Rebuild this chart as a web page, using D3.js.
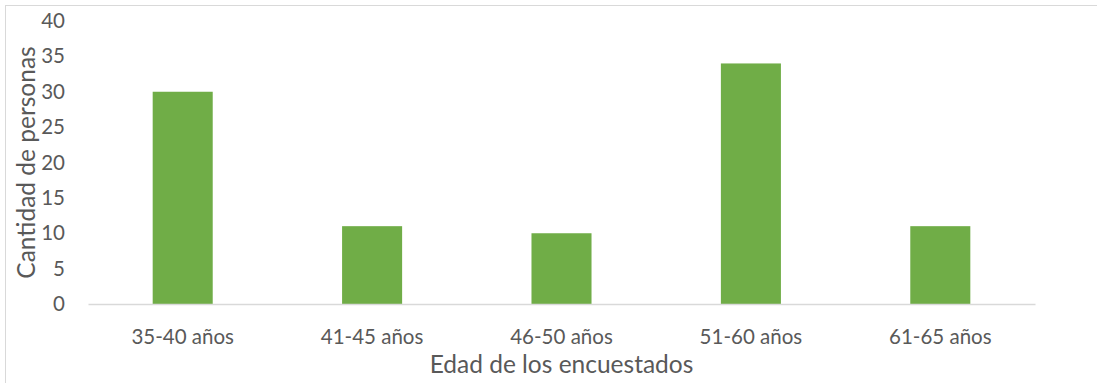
<!DOCTYPE html>
<html>
<head>
<meta charset="utf-8">
<style>
    body { margin: 0; background: #fff; }
    text { font-family: Lato, "Open Sans", sans-serif; fill: #595959; }
</style>
</head>
<body>
<script src="https://d3js.org/d3.v7.min.js"></script>
<script>
    // Data
    var categories = ["35-40 años", "41-45 años", "46-50 años", "51-60 años", "61-65 años"];
    var values = [30, 11, 10, 34, 11];
    var yTicks = [0, 5, 10, 15, 20, 25, 30, 35, 40];

    var W = 1097, H = 383;
    var margin = { top: 21, right: 62, bottom: 79, left: 88 },
        width = W - margin.left - margin.right,
        height = H - margin.top - margin.bottom;

    var svg = d3.select("body").append("svg")
        .attr("width", W)
        .attr("height", H);

    // outer chart frame (cut off at right and bottom like the reference)
    svg.append("rect")
        .attr("x", 5.5).attr("y", 5.5)
        .attr("width", W + 10).attr("height", H + 10)
        .attr("fill", "none")
        .attr("stroke", "#d9d9d9");

    var g = svg.append("g")
        .attr("transform", "translate(" + margin.left + "," + margin.top + ")");

    var x = d3.scaleBand()
        .domain(categories)
        .range([0, width])
        .paddingInner(0.683)
        .paddingOuter(0.3415);

    var y = d3.scaleLinear().domain([0, 40]).range([height, 0]);

    // bars
    g.selectAll(".bar")
        .data(values)
        .enter().append("rect")
        .attr("class", "bar")
        .attr("x", function (d, i) { return x(categories[i]); })
        .attr("y", function (d) { return y(d); })
        .attr("width", x.bandwidth())
        .attr("height", function (d) { return height - y(d); })
        .attr("fill", "#70ad47");

    // x axis
    var xAxis = g.append("g")
        .attr("transform", "translate(0," + height + ")")
        .call(d3.axisBottom(x).tickSize(0).tickPadding(25));
    xAxis.select(".domain").attr("stroke", "#d9d9d9").attr("stroke-width", 1.5);
    xAxis.selectAll("text").style("font-size", "20.5px").attr("fill", "#595959");

    // y axis (labels only)
    var yAxis = g.append("g")
        .call(d3.axisLeft(y).tickValues(yTicks).tickSize(0).tickPadding(23));
    yAxis.select(".domain").remove();
    yAxis.selectAll("text").style("font-size", "20.5px").attr("fill", "#595959");

    // y title
    svg.append("text")
        .attr("transform", "translate(35," + (margin.top + height / 2) + ") rotate(-90)")
        .attr("text-anchor", "middle")
        .style("font-size", "24.5px")
        .text("Cantidad de personas");

    // x title
    svg.append("text")
        .attr("x", margin.left + width / 2)
        .attr("y", 373)
        .attr("text-anchor", "middle")
        .style("font-size", "24.5px")
        .text("Edad de los encuestados");
</script>
</body>
</html>
